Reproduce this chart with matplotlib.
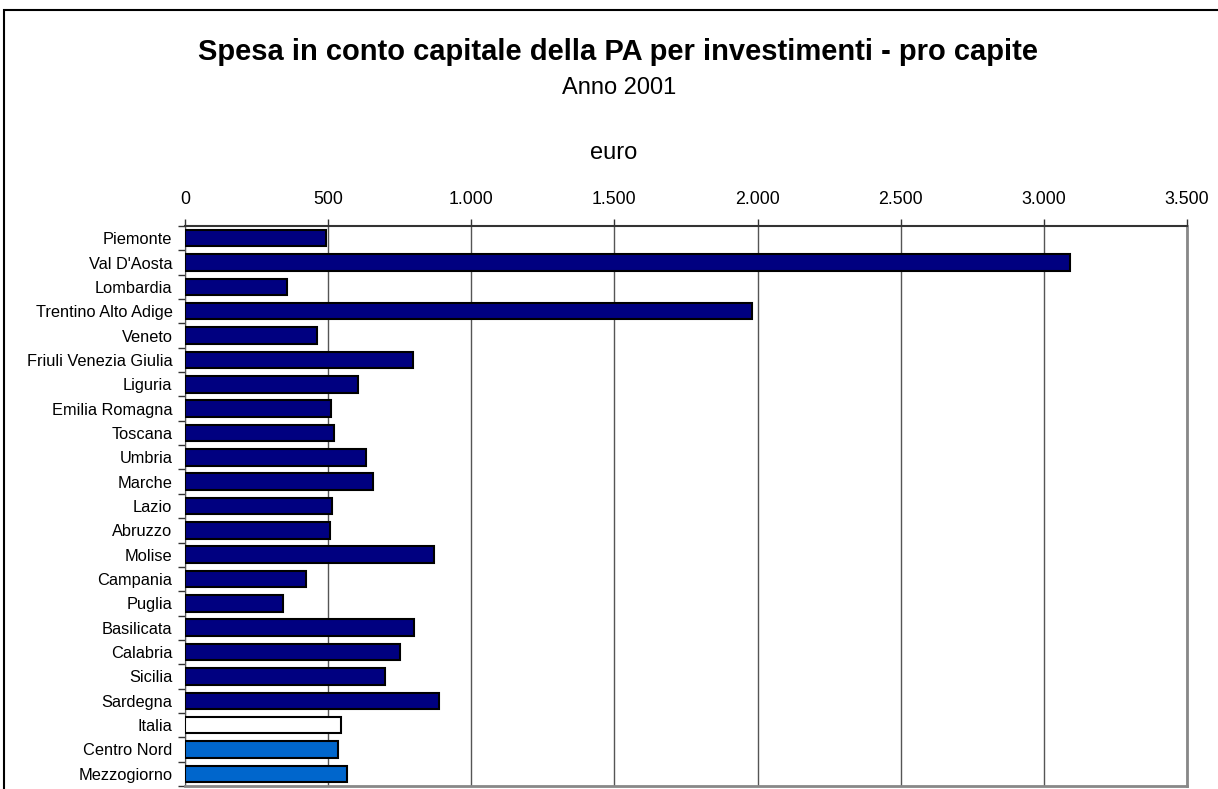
import numpy as np
import matplotlib.pyplot as plt
from matplotlib.patches import Rectangle
from matplotlib.ticker import FuncFormatter

plt.rcParams['font.family'] = ['Liberation Sans', 'DejaVu Sans']

regioni = ["Piemonte", "Val D'Aosta", "Lombardia", "Trentino Alto Adige", "Veneto",
           "Friuli Venezia Giulia", "Liguria", "Emilia Romagna", "Toscana", "Umbria",
           "Marche", "Lazio", "Abruzzo", "Molise", "Campania", "Puglia", "Basilicata",
           "Calabria", "Sicilia", "Sardegna", "Italia", "Centro Nord", "Mezzogiorno"]
valori = [492, 3091, 356, 1980, 461, 796, 604, 510, 520, 632, 657, 513, 506, 870,
          423, 342, 800, 751, 699, 887, 545, 534, 566]
colori = ["#000080"] * 20 + ["#FFFFFF", "#0066CC", "#0066CC"]
x_ticks = [0, 500, 1000, 1500, 2000, 2500, 3000, 3500]

fig = plt.figure(figsize=(12.18, 7.89), dpi=100)
ax = fig.add_axes([185 / 1218, 3 / 789, 1002 / 1218, 560 / 789])

y = np.arange(len(regioni))
ax.barh(y, valori, height=0.68, color=colori, edgecolor="black", linewidth=1.5, zorder=3)

ax.set_xlim(0, 3500)
ax.set_ylim(len(regioni) - 0.5, -0.5)
ax.set_xticks(x_ticks)
ax.xaxis.set_major_formatter(FuncFormatter(lambda v, p: f"{int(v):,}".replace(",", ".")))
ax.xaxis.tick_top()
ax.tick_params(axis="x", direction="out", length=5, width=1, colors="#333333",
               labelsize=12.8, labelcolor="black", pad=8)
ax.grid(axis="x", color="#555555", linewidth=1, zorder=0)

# y ticks at the boundaries (Excel style), labels at the centres
ax.set_yticks(np.arange(len(regioni) + 1) - 0.5)
ax.set_yticklabels([])
ax.set_yticks(y, minor=True)
ax.set_yticklabels(regioni, minor=True, fontsize=11.8)
ax.tick_params(axis="y", which="major", direction="out", length=5, width=1, colors="#333333")
ax.tick_params(axis="y", which="minor", length=0, pad=9)

ax.spines["top"].set_color("#333333")
ax.spines["top"].set_linewidth(1.5)
ax.spines["left"].set_color("#555555")
ax.spines["right"].set_color("#888888")
ax.spines["right"].set_linewidth(2)
ax.spines["bottom"].set_color("#888888")
ax.spines["bottom"].set_linewidth(2)

fig.text(618.5 / 1218, 1 - 60.5 / 789, "Spesa in conto capitale della PA per investimenti - pro capite",
         ha="center", va="baseline", fontsize=21, fontweight="bold")
fig.text(619 / 1218, 1 - 94 / 789, "Anno 2001", ha="center", va="baseline", fontsize=17)
fig.text(614 / 1218, 1 - 159 / 789, "euro", ha="center", va="baseline", fontsize=17)

fig.patches.append(Rectangle((4 / 1218, -0.2), 1.2, 1.2 - 10 / 789, transform=fig.transFigure,
                             fill=False, edgecolor="black", linewidth=1.5))

fig.savefig("out.png", dpi=100)
